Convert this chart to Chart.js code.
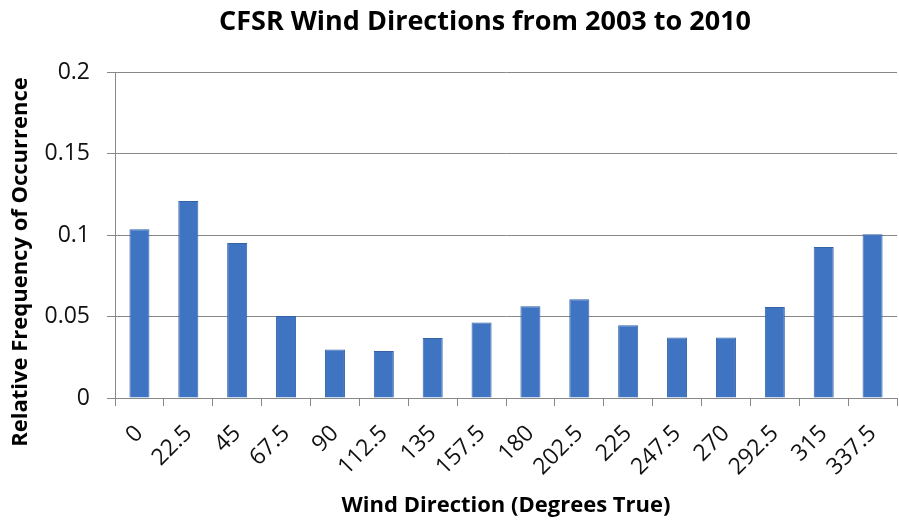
<!DOCTYPE html>
<html>
<head>
<meta charset="utf-8">
<script src="https://cdn.jsdelivr.net/npm/chart.js@4/dist/chart.umd.min.js"></script>
<style>
  html, body { margin: 0; padding: 0; background: #ffffff; }
  #wrap { width: 899px; height: 522px; }
</style>
</head>
<body>
<div id="wrap"><canvas id="c" width="899" height="522"></canvas></div>
<script>
const directions = ['0', '22.5', '45', '67.5', '90', '112.5', '135', '157.5', '180', '202.5', '225', '247.5', '270', '292.5', '315', '337.5'];
const frequencies = [0.1035, 0.1209, 0.0951, 0.0503, 0.0297, 0.0288, 0.0368, 0.0463, 0.0563, 0.0606, 0.0446, 0.0371, 0.0371, 0.0558, 0.0926, 0.1004];
const yTicks = [0, 0.05, 0.1, 0.15, 0.2];
const chartTitle = 'CFSR Wind Directions from 2003 to 2010';
const xTitle = 'Wind Direction (Degrees True)';
const yTitle = 'Relative Frequency of Occurrence';

const FONT = '"Open Sans", Lato, sans-serif';

const titlesPlugin = {
  id: 'titlesPlugin',
  afterDraw(chart) {
    const ctx = chart.ctx;
    ctx.save();
    ctx.fillStyle = '#000000';
    ctx.textAlign = 'center';
    ctx.textBaseline = 'middle';
    ctx.font = 'bold 27px ' + FONT;
    ctx.fillText(chartTitle, 485, 22);
    ctx.translate(21, 262);
    ctx.rotate(-Math.PI / 2);
    ctx.font = 'bold 22px ' + FONT;
    ctx.fillText(yTitle, 0, 0);
    ctx.restore();
  }
};

new Chart(document.getElementById('c'), {
  type: 'bar',
  data: {
    labels: directions,
    datasets: [{
      data: frequencies,
      backgroundColor: '#3F74C3',
      borderColor: '#3461A8',
      borderWidth: 1,
      categoryPercentage: 1,
      barPercentage: 0.41
    }]
  },
  options: {
    responsive: false,
    animation: false,
    layout: { padding: { left: 0, right: 2, top: 72, bottom: 0 } },
    plugins: {
      legend: { display: false },
      tooltip: { enabled: false },
      title: { display: false }
    },
    scales: {
      x: {
        offset: true,
        grid: {
          display: true,
          offset: true,
          drawOnChartArea: false,
          drawTicks: true,
          tickLength: 8,
          color: '#888888'
        },
        border: { display: true, color: '#888888', width: 1 },
        ticks: {
          color: '#111111',
          font: { family: FONT, size: 23 },
          minRotation: 45,
          maxRotation: 45,
          padding: 14,
          autoSkip: false
        },
        title: {
          display: true,
          text: xTitle,
          color: '#000000',
          font: { family: FONT, size: 22, weight: 'bold' },
          padding: { top: 0, bottom: 3 }
        },
        afterFit(scale) {
          scale.height = 124;
          scale.paddingLeft = 0;
          scale.paddingRight = 0;
        }
      },
      y: {
        min: 0,
        max: 0.2,
        afterBuildTicks(scale) { scale.ticks = yTicks.map(v => ({ value: v })); },
        grid: {
          color: '#888888',
          drawTicks: true,
          tickLength: 8
        },
        border: { display: true, color: '#888888', width: 1 },
        ticks: {
          color: '#111111',
          font: { family: FONT, size: 23 },
          padding: 17,
          callback: (v) => String(v)
        },
        afterFit(scale) {
          scale.width = 115;
          scale.paddingTop = 0;
          scale.paddingBottom = 0;
        }
      }
    }
  },
  plugins: [titlesPlugin]
});
</script>
</body>
</html>
